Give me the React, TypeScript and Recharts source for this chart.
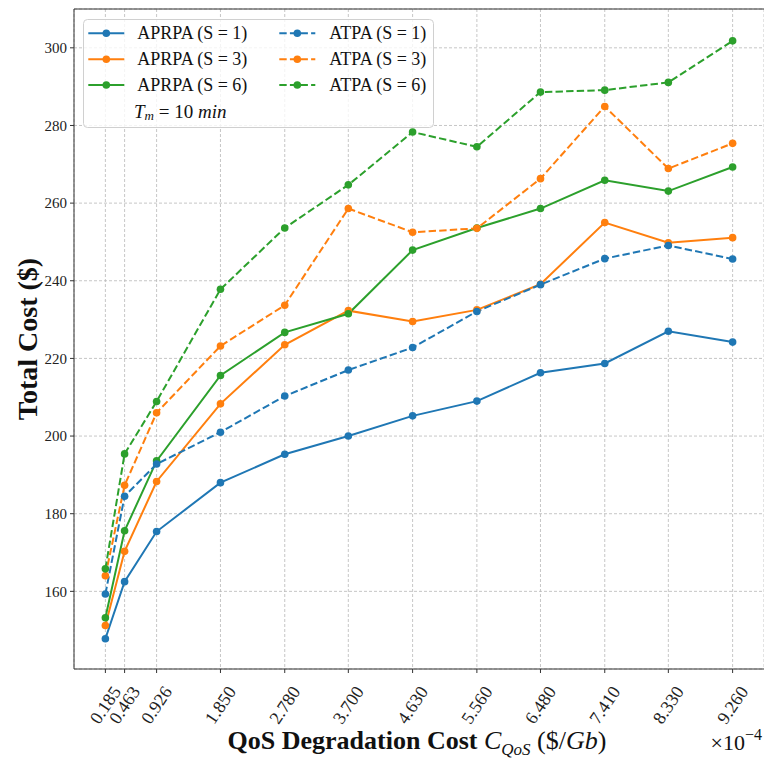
import React from 'react';
import {
  LineChart, Line, XAxis, YAxis, CartesianGrid, ReferenceLine
} from 'recharts';

const FONT = '"Liberation Serif", "Times New Roman", serif';

// x positions (C_QoS, x 1e-4)
const cqos = [0.185, 0.463, 0.926, 1.85, 2.78, 3.7, 4.63, 5.56, 6.48, 7.41, 8.33, 9.26];

// total cost ($)
const aprpaS1 = [147.8, 162.5, 175.4, 188.0, 195.3, 200.0, 205.2, 209.0, 216.3, 218.7, 227.0, 224.2];
const aprpaS3 = [151.2, 170.3, 188.3, 208.3, 223.5, 232.3, 229.5, 232.5, 239.1, 255.0, 249.8, 251.1];
const aprpaS6 = [153.2, 175.6, 193.6, 215.6, 226.7, 231.5, 247.9, 253.6, 258.6, 265.9, 263.1, 269.3];
const atpaS1 = [159.3, 184.5, 192.8, 201.0, 210.3, 217.0, 222.8, 232.1, 239.0, 245.7, 249.1, 245.6];
const atpaS3 = [164.0, 187.3, 206.0, 223.2, 233.7, 258.6, 252.5, 253.5, 266.3, 284.9, 268.9, 275.4];
const atpaS6 = [165.8, 195.4, 208.9, 237.8, 253.6, 264.7, 278.3, 274.5, 288.6, 289.1, 291.1, 301.8];

const yTicks = [160, 180, 200, 220, 240, 260, 280, 300];

const BLUE = '#1f77b4';
const ORANGE = '#ff7f0e';
const GREEN = '#2ca02c';
const DASH = '7.4 3.2';

const series = [
  { key: 'a1', name: 'APRPA (S = 1)', color: BLUE, dashed: false, values: aprpaS1 },
  { key: 'a3', name: 'APRPA (S = 3)', color: ORANGE, dashed: false, values: aprpaS3 },
  { key: 'a6', name: 'APRPA (S = 6)', color: GREEN, dashed: false, values: aprpaS6 },
  { key: 't1', name: 'ATPA (S = 1)', color: BLUE, dashed: true, values: atpaS1 },
  { key: 't3', name: 'ATPA (S = 3)', color: ORANGE, dashed: true, values: atpaS3 },
  { key: 't6', name: 'ATPA (S = 6)', color: GREEN, dashed: true, values: atpaS6 },
];

const data = cqos.map((x, i) => {
  const row: Record<string, number> = { x };
  series.forEach(s => { row[s.key] = s.values[i]; });
  return row;
});

const XTick = (props: any) => {
  const { x, y, payload } = props;
  return (
    <text
      transform={`translate(${x},${y + 32}) rotate(-56)`}
      textAnchor="middle"
      dominantBaseline="central"
      fontSize={18}
      fill="#222"
      fontFamily={FONT}
    >
      {Number(payload.value).toFixed(3)}
    </text>
  );
};

const XLabel = (props: any) => {
  const vb = props.viewBox || { x: 74, y: 669, width: 690, height: 91 };
  const cx = vb.x + vb.width / 2 - 2;
  return (
    <g fontFamily={FONT} fill="#111">
      <text x={cx} y={749} textAnchor="middle" fontSize={26}>
        <tspan fontWeight="bold">QoS Degradation Cost </tspan>
        <tspan fontStyle="italic">C</tspan>
        <tspan fontStyle="italic" fontSize={17} dy={6}>QoS</tspan>
        <tspan dy={-6}> ($/</tspan>
        <tspan fontStyle="italic">Gb</tspan>
        <tspan>)</tspan>
      </text>
      <text x={762} y={750} textAnchor="end" fontSize={22}>
        ×10<tspan fontSize={16} dy={-10}>−4</tspan>
      </text>
    </g>
  );
};

const YLabel = (props: any) => {
  const vb = props.viewBox || { x: 0, y: 9, width: 74, height: 660 };
  const cy = vb.y + vb.height / 2;
  return (
    <text
      x={27}
      y={cy}
      transform={`rotate(-90, 27, ${cy})`}
      textAnchor="middle"
      dominantBaseline="central"
      fontSize={28}
      fontWeight="bold"
      fontFamily={FONT}
      fill="#111"
    >
      Total Cost ($)
    </text>
  );
};

const LegendBox = () => {
  const rows = [14.3, 40.3, 66];
  const cols = [
    { x0: 5.3, tx: 54.3, items: series.slice(0, 3) },
    { x0: 196.3, tx: 246.3, items: series.slice(3) },
  ];
  return (
    <svg
      width={352}
      height={110}
      style={{ position: 'absolute', left: 83, top: 19 }}
      fontFamily={FONT}
    >
      <rect x={0.5} y={0.5} width={350} height={108} rx={4}
        fill="#fff" fillOpacity={0.8} stroke="#d0d0d0" />
      {cols.map((c, ci) => c.items.map((s, i) => (
        <g key={`${ci}-${i}`}>
          <line x1={c.x0} x2={c.x0 + 36} y1={rows[i]} y2={rows[i]}
            stroke={s.color} strokeWidth={2}
            strokeDasharray={s.dashed ? DASH : undefined} />
          <circle cx={c.x0 + 18} cy={rows[i]} r={3.8} fill={s.color} />
          <text x={c.tx} y={rows[i]} dominantBaseline="central" fontSize={18} fill="#111">
            {s.name}
          </text>
        </g>
      )))}
      <text x={51} y={91.7} dominantBaseline="central" fontSize={19} fill="#111">
        <tspan fontStyle="italic">T</tspan>
        <tspan fontStyle="italic" fontSize={13} dy={4}>m</tspan>
        <tspan dy={-4}> = 10 </tspan>
        <tspan fontStyle="italic">min</tspan>
      </text>
    </svg>
  );
};

export default function App() {
  return (
    <div style={{ position: 'absolute', left: 0, top: 0, width: 764, height: 760, overflow: 'hidden', background: '#fff' }}>
      <LineChart
        width={764}
        height={760}
        data={data}
        margin={{ top: 9, right: 0, bottom: 0, left: 0 }}
      >
        <CartesianGrid stroke="#b8b8b8" strokeDasharray="3 2" strokeWidth={0.8} />
        <XAxis
          dataKey="x"
          type="number"
          domain={[-0.269, 9.714]}
          ticks={cqos}
          interval={0}
          allowDataOverflow
          height={91}
          tickSize={4}
          tickMargin={0}
          tick={XTick}
          stroke="#333"
          label={XLabel}
        />
        <YAxis
          type="number"
          domain={[140, 310]}
          ticks={yTicks}
          allowDataOverflow
          width={74}
          tickSize={4}
          tickMargin={3}
          stroke="#333"
          tick={{ fontSize: 15, fill: '#222', fontFamily: FONT }}
          label={YLabel}
        />
        <ReferenceLine y={310} stroke="#333" ifOverflow="visible" />
        {series.map(s => (
          <Line
            key={s.key}
            type="linear"
            dataKey={s.key}
            name={s.name}
            stroke={s.color}
            strokeWidth={2}
            strokeDasharray={s.dashed ? DASH : undefined}
            dot={{ r: 3.8, fill: s.color, stroke: 'none' }}
            activeDot={false}
            isAnimationActive={false}
          />
        ))}
      </LineChart>
      <LegendBox />
    </div>
  );
}
